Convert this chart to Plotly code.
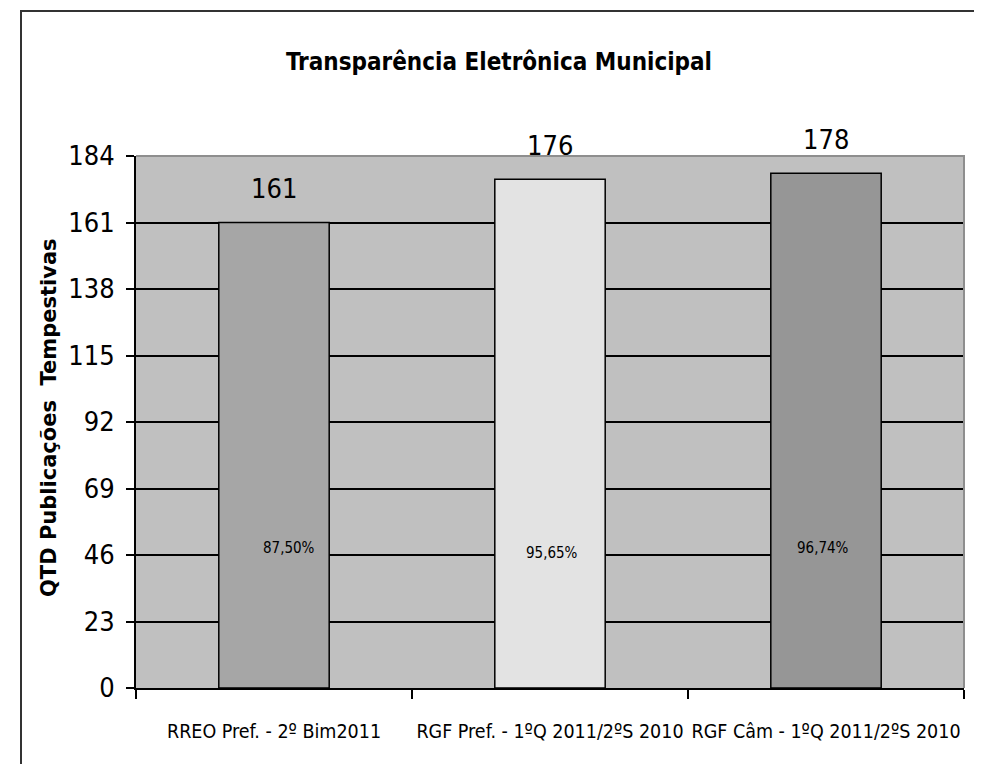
import plotly.graph_objects as go

categories = ["RREO Pref. - 2º Bim2011", "RGF Pref. - 1ºQ 2011/2ºS 2010", "RGF Câm - 1ºQ 2011/2ºS 2010"]
values = [161, 176, 178]
percent_labels = ["87,50%", "95,65%", "96,74%"]
percent_y = [48.4, 46.7, 48.4]
percent_xshift = [15, 2, -3]
bar_colors = ["#a6a6a6", "#e3e3e3", "#969696"]
y_ticks = [0, 23, 46, 69, 92, 115, 138, 161, 184]

NARROW = "Liberation Sans Narrow, Arial Narrow, DejaVu Sans Condensed, sans-serif"

OFF = 8  # page body margin
W, H = 982 - OFF, 764 - OFF
L, R, T, B = 136 - OFF, 18, 156 - OFF, 76
PW, PH = W - L - R, H - T - B

def px(x):
    return (x - OFF - L) / PW

def py(y):
    return (H - B - (y - OFF)) / PH

fig = go.Figure()
fig.add_trace(go.Bar(
    x=categories, y=values, width=0.4,
    marker=dict(color=bar_colors, line=dict(color="black", width=1.5)),
    hoverinfo="skip",
))

annotations = []
for c, v in zip(categories, values):
    annotations.append(dict(x=c, y=v, xref="x", yref="y", text=str(v), showarrow=False,
                            yanchor="middle", yshift=34,
                            font=dict(family=NARROW, size=27, color="black")))
for c, p, yy, xs in zip(categories, percent_labels, percent_y, percent_xshift):
    annotations.append(dict(x=c, y=yy, xref="x", yref="y", text=p, showarrow=False,
                            xshift=xs, font=dict(family=NARROW, size=15, color="black")))
annotations.append(dict(x=px(499), y=py(62), xref="paper", yref="paper",
                        xanchor="center", yanchor="middle",
                        text="<b>Transparência Eletrônica Municipal</b>", showarrow=False,
                        font=dict(family=NARROW, size=24, color="black")))
annotations.append(dict(x=px(49), y=py(418), xref="paper", yref="paper", textangle=-90,
                        xanchor="center", yanchor="middle",
                        text="<b>QTD Publicações  Tempestivas</b>", showarrow=False,
                        font=dict(family="DejaVu Sans, sans-serif", size=21, color="black")))

shapes = [
    dict(type="path", xref="paper", yref="paper",
         path=f"M {px(21)} {py(780)} L {px(21)} {py(11)} L {px(975)} {py(11)} L {px(975)} {py(780)}",
         line=dict(color="#333333", width=2)),
    dict(type="path", xref="paper", yref="paper",
         path="M 0 1 L 1 1 L 1 0",
         line=dict(color="#8e8e8e", width=2)),
]

fig.update_layout(
    width=W, height=H,
    margin=dict(l=L, r=R, t=T, b=B, autoexpand=False),
    paper_bgcolor="white",
    plot_bgcolor="#c0c0c0",
    showlegend=False,
    annotations=annotations,
    shapes=shapes,
    xaxis=dict(
        type="category", range=[-0.5, 2.5], automargin=False, tickangle=0,
        showline=True, linecolor="black", linewidth=2,
        ticks="outside", tickson="boundaries", ticklen=9, tickcolor="black", tickwidth=1.5,
        showgrid=False, ticklabelstandoff=25,
        tickfont=dict(family=NARROW, size=19.5, color="black"),
    ),
    yaxis=dict(
        range=[0, 184], tickvals=y_ticks, automargin=False,
        showline=True, linecolor="black", linewidth=2,
        ticks="outside", ticklen=8, tickcolor="black", tickwidth=1.5,
        showgrid=True, gridcolor="black", gridwidth=2,
        zeroline=False, ticklabelstandoff=6,
        tickfont=dict(family=NARROW, size=27, color="black"),
    ),
)

fig.write_html("out.html")
